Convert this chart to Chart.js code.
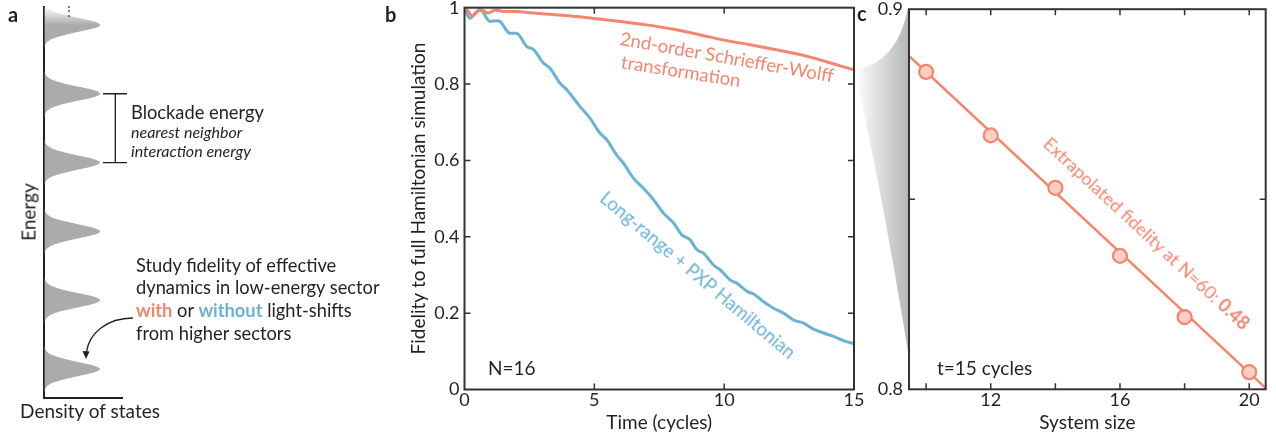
<!DOCTYPE html>
<html>
<head>
<meta charset="utf-8">
<script src="https://cdn.jsdelivr.net/npm/chart.js@4.4.1/dist/chart.umd.min.js"></script>
<style>
  html, body { margin: 0; padding: 0; background: #fff; }
  body { width: 1276px; height: 439px; position: relative; overflow: hidden; font-family: Lato, sans-serif; color: #231f20; }
  canvas { position: absolute; top: 0; }
  .t { position: absolute; white-space: nowrap; line-height: 1; font-size: 19px; }
  .l { transform: translate(0, -50%); }
  .c { transform: translate(-50%, -50%); }
  .p { font-size: 18.3px; }
  .r { font-size: 18.5px; }
  .lbl { font-weight: bold; font-size: 20px; }
  .sal { color: #f4866e; }
  .blu { color: #6ab3d4; }
  .it { font-style: italic; font-size: 16px; }
</style>
</head>
<body>
<canvas id="dos" width="400" height="439" style="left:0"></canvas>
<canvas id="fid" width="470" height="439" style="left:400px"></canvas>
<canvas id="size" width="426" height="439" style="left:850px"></canvas>

<div class="t l lbl" style="left:8px;top:14px">a</div>
<div class="t l lbl" style="left:385px;top:14px">b</div>
<div class="t l lbl" style="left:857px;top:13px">c</div>

<div class="t c" style="left:69px;top:11px;font-size:12px">⋮</div>
<div class="t c" style="left:28px;top:212px;transform:translate(-50%,-50%) rotate(-90deg)">Energy</div>
<div class="t c" style="left:90px;top:410px">Density of states</div>
<div class="t l p" style="left:131px;top:112px">Blockade energy</div>
<div class="t l it" style="left:131px;top:132px">nearest neighbor</div>
<div class="t l it" style="left:131px;top:151px">interaction energy</div>
<div class="t l p" style="left:136px;top:265px">Study fidelity of effective</div>
<div class="t l p" style="left:136px;top:287px">dynamics in low-energy sector</div>
<div class="t l p" style="left:136px;top:310px"><b class="sal">with</b> or <b class="blu">without</b> light-shifts</div>
<div class="t l p" style="left:136px;top:333px">from higher sectors</div>

<div class="t c sal r" style="left:727px;top:57px;transform:translate(-50%,-50%) rotate(10deg)">2nd-order Schrieffer-Wolff</div>
<div class="t c sal r" style="left:681px;top:71px;transform:translate(-50%,-50%) rotate(9deg)">transformation</div>
<div class="t c blu r" style="left:698px;top:275px;transform:translate(-50%,-50%) rotate(40deg)">Long-range + PXP Hamiltonian</div>
<div class="t l" style="left:488px;top:367px">N=16</div>

<div class="t c sal" style="left:1147px;top:233px;font-size:18px;transform:translate(-50%,-50%) rotate(42.8deg)">Extrapolated fidelity at N=60: <b>0.48</b></div>
<div class="t l" style="left:937px;top:367px">t=15 cycles</div>

<script>
// a: density of states, one peak shape repeated at each sector energy
const peakEnergies = [0, 1, 2, 3, 4, 5];
const peakOffsets = [-0.35, -0.3, -0.25, -0.2, -0.15, -0.1, -0.05, 0, 0.05, 0.1, 0.15, 0.2, 0.25, 0.3, 0.35];
const peakDensity = [0, 0.014, 0.05, 0.15, 0.35, 0.62, 0.89, 1, 0.89, 0.62, 0.35, 0.15, 0.05, 0.014, 0];

// b: fidelity vs time, N=16
const timeSW = [0, 0.15, 0.3, 0.5, 0.7, 0.9, 1.2, 1.5, 2, 2.5, 3, 4, 5, 6, 7, 8, 9, 10, 11, 12, 13, 14, 15];
const fidSW = [1.0, 0.99, 0.978, 0.99, 0.993, 0.986, 0.994, 0.99, 0.99, 0.987, 0.984, 0.979, 0.972, 0.964, 0.955, 0.944, 0.93, 0.915, 0.903, 0.89, 0.876, 0.857, 0.837];
const timePXP = [0, 0.08, 0.21, 0.4, 0.6, 0.98, 1.24, 1.37, 1.75, 2.0, 2.4, 2.65, 3.04, 3.3, 3.68, 3.94, 4.45, 4.84, 5.22, 5.48, 5.86, 6.12, 6.51, 6.89, 7.28, 7.66, 8.05, 8.37, 8.69, 8.95, 9.2, 9.59, 9.85, 10.23, 10.49, 10.88, 11.13, 11.52, 11.9, 12.29, 12.67, 13.06, 13.44, 13.83, 14.21, 14.6, 15];
const fidPXP = [1.0, 0.985, 0.972, 0.985, 0.995, 0.964, 0.966, 0.964, 0.933, 0.933, 0.898, 0.891, 0.855, 0.841, 0.802, 0.785, 0.741, 0.71, 0.671, 0.654, 0.614, 0.593, 0.553, 0.527, 0.497, 0.462, 0.436, 0.405, 0.392, 0.366, 0.357, 0.326, 0.313, 0.287, 0.278, 0.257, 0.25, 0.23, 0.213, 0.2, 0.182, 0.174, 0.158, 0.148, 0.139, 0.128, 0.12];

// c: fidelity at t=15 cycles vs system size
const systemSizes = [10, 12, 14, 16, 18, 20];
const fidAtT15 = [0.8835, 0.8668, 0.853, 0.8351, 0.819, 0.8045];
const fitSizes = [9.47, 20.51];
const fitFid = [0.8877, 0.8003];

const SALMON = '#f4866e';
const SALMON_FILL = '#f9d0c6';
const BLUE = '#6ab3d4';
const INK = '#231f20';

Chart.defaults.font.family = 'Lato, sans-serif';
Chart.defaults.color = INK;

const xy = (xs, ys) => xs.map((x, i) => ({x: x, y: ys[i]}));
const plainNum = v => String(Number(v.toFixed(2)));

const dosPoints = [];
peakEnergies.forEach(e => {
  peakOffsets.forEach((o, i) => dosPoints.push({x: peakDensity[i], y: e + o}));
});

// box frame + inward ticks on all four sides
const frameTicks = {
  id: 'frameTicks',
  afterDraw(chart) {
    const {ctx, chartArea: a, scales: {x, y}} = chart;
    const len = 6;
    ctx.save();
    ctx.strokeStyle = '#333';
    ctx.lineWidth = 1.5;
    ctx.beginPath();
    x.ticks.forEach(t => {
      const px = x.getPixelForValue(t.value);
      if (px < a.left + 2 || px > a.right - 2) return;
      ctx.moveTo(px, a.bottom); ctx.lineTo(px, a.bottom - len);
      ctx.moveTo(px, a.top); ctx.lineTo(px, a.top + len);
    });
    y.ticks.forEach(t => {
      const py = y.getPixelForValue(t.value);
      if (py < a.top + 2 || py > a.bottom - 2) return;
      ctx.moveTo(a.left, py); ctx.lineTo(a.left + len, py);
      ctx.moveTo(a.right, py); ctx.lineTo(a.right - len, py);
    });
    ctx.stroke();
    ctx.lineWidth = 2;
    ctx.strokeRect(a.left, a.top, a.right - a.left, a.bottom - a.top);
    ctx.restore();
  }
};

// bracket and arrow of panel a
const dosNotes = {
  id: 'dosNotes',
  afterDraw(chart) {
    const {ctx, scales: {y}} = chart;
    const y1 = y.getPixelForValue(4), y2 = y.getPixelForValue(3);
    ctx.save();
    ctx.strokeStyle = INK;
    ctx.fillStyle = INK;
    ctx.lineWidth = 1.3;
    ctx.beginPath();
    ctx.moveTo(115.3, y1); ctx.lineTo(115.3, y2);
    ctx.moveTo(103, y1); ctx.lineTo(127, y1);
    ctx.moveTo(103, y2); ctx.lineTo(127, y2);
    ctx.stroke();
    ctx.beginPath();
    ctx.moveTo(133, 318);
    ctx.bezierCurveTo(106, 318, 89, 334, 86.5, 352);
    ctx.stroke();
    ctx.beginPath();
    ctx.moveTo(86, 359); ctx.lineTo(82.5, 351); ctx.lineTo(89.5, 351.5);
    ctx.closePath();
    ctx.fill();
    ctx.restore();
  }
};

// shaded zoom wedge from panel b into panel c
const zoomWedge = {
  id: 'zoomWedge',
  beforeDraw(chart) {
    const {ctx, chartArea: a} = chart;
    const g = ctx.createLinearGradient(5, 0, a.left, 0);
    g.addColorStop(0, 'rgba(255,255,255,1)');
    g.addColorStop(1, '#b5b5b7');
    ctx.save();
    ctx.fillStyle = g;
    ctx.beginPath();
    ctx.moveTo(5, 70);
    ctx.quadraticCurveTo(48, 62, a.left - 1, 8);
    ctx.lineTo(a.left - 1, 352);
    ctx.quadraticCurveTo(30, 180, 5, 74);
    ctx.closePath();
    ctx.fill();
    ctx.restore();
  }
};

new Chart(document.getElementById('dos'), {
  type: 'line',
  data: {
    datasets: [{
      data: dosPoints,
      fill: 'origin',
      borderColor: 'rgba(0,0,0,0)',
      borderWidth: 0,
      pointRadius: 0,
      cubicInterpolationMode: 'monotone',
      backgroundColor: (c) => {
        const {ctx, chartArea, scales} = c.chart;
        if (!chartArea) return '#ababab';
        const g = ctx.createLinearGradient(0, scales.y.getPixelForValue(5), 0, chartArea.top);
        g.addColorStop(0, '#ababab');
        g.addColorStop(1, '#ffffff');
        return g;
      }
    }]
  },
  options: {
    indexAxis: 'y',
    responsive: false,
    animation: false,
    layout: {padding: {top: 7, right: 277}},
    plugins: {legend: {display: false}, tooltip: {enabled: false}},
    scales: {
      x: {
        type: 'linear', min: 0, max: 1.41,
        ticks: {display: false},
        grid: {display: false},
        border: {display: true, color: INK, width: 2},
        afterFit(s) { s.height = 41; s.paddingLeft = 0; s.paddingRight = 0; }
      },
      y: {
        type: 'linear', min: -0.42, max: 5.26,
        ticks: {display: false},
        grid: {display: false},
        border: {display: true, color: INK, width: 2},
        afterFit(s) { s.width = 44.3; s.paddingTop = 0; s.paddingBottom = 0; }
      }
    }
  },
  plugins: [dosNotes]
});

new Chart(document.getElementById('fid'), {
  type: 'line',
  data: {
    datasets: [
      {data: xy(timeSW, fidSW), borderColor: SALMON, borderWidth: 3, pointRadius: 0, cubicInterpolationMode: 'monotone'},
      {data: xy(timePXP, fidPXP), borderColor: BLUE, borderWidth: 3, pointRadius: 0, cubicInterpolationMode: 'monotone'}
    ]
  },
  options: {
    responsive: false,
    animation: false,
    layout: {padding: {top: 7.7, right: 16}},
    plugins: {legend: {display: false}, tooltip: {enabled: false}},
    scales: {
      x: {
        type: 'linear', min: 0, max: 15,
        ticks: {stepSize: 5, padding: 0, font: {size: 18}, includeBounds: false, maxRotation: 0},
        grid: {display: false, drawTicks: false},
        border: {display: false},
        title: {display: true, text: 'Time (cycles)', font: {size: 19}, padding: {top: 0, bottom: 5}},
        afterFit(s) { s.height = 49.5; s.paddingLeft = 0; s.paddingRight = 0; }
      },
      y: {
        type: 'linear', min: 0, max: 1,
        ticks: {stepSize: 0.2, padding: 5, font: {size: 18}, callback: plainNum},
        grid: {display: false, drawTicks: false},
        border: {display: false},
        title: {display: true, text: 'Fidelity to full Hamiltonian simulation', font: {size: 19}, padding: {top: 7, bottom: 0}},
        afterFit(s) { s.width = 64.5; s.paddingTop = 0; s.paddingBottom = 0; }
      }
    }
  },
  plugins: [frameTicks]
});

new Chart(document.getElementById('size'), {
  type: 'line',
  data: {
    datasets: [
      {data: xy(systemSizes, fidAtT15), showLine: false, pointRadius: 7, pointBorderWidth: 2.2,
       pointBackgroundColor: SALMON_FILL, pointBorderColor: SALMON, order: 0},
      {data: xy(fitSizes, fitFid), borderColor: SALMON, borderWidth: 2.5, pointRadius: 0, order: 1}
    ]
  },
  options: {
    responsive: false,
    animation: false,
    layout: {padding: {top: 7.3, right: 10.3}},
    plugins: {legend: {display: false}, tooltip: {enabled: false}},
    scales: {
      x: {
        type: 'linear', min: 9.47, max: 20.51,
        ticks: {stepSize: 2, padding: 0, font: {size: 18}, includeBounds: false, maxRotation: 0,
                callback: v => (v === 12 || v === 16 || v === 20) ? String(v) : ''},
        grid: {display: false, drawTicks: false},
        border: {display: false},
        title: {display: true, text: 'System size', font: {size: 19}, padding: {top: 0, bottom: 5}},
        afterFit(s) { s.height = 49.7; s.paddingLeft = 0; s.paddingRight = 0; }
      },
      y: {
        type: 'linear', min: 0.8, max: 0.9,
        ticks: {stepSize: 0.05, padding: 6, font: {size: 18},
                callback: v => Math.abs(v - 0.85) < 1e-6 ? '' : v.toFixed(1)},
        grid: {display: false, drawTicks: false},
        border: {display: false},
        afterFit(s) { s.width = 59; s.paddingTop = 0; s.paddingBottom = 0; }
      }
    }
  },
  plugins: [zoomWedge, frameTicks]
});
</script>
</body>
</html>
